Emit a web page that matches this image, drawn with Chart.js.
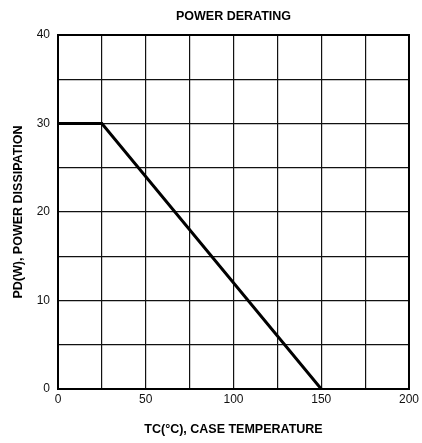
<!DOCTYPE html>
<html>
<head>
<meta charset="utf-8">
<script src="https://cdn.jsdelivr.net/npm/chart.js@4/dist/chart.umd.min.js"></script>
<style>
  html, body { margin: 0; padding: 0; background: #fff; }
  #wrap { width: 422px; height: 443px; }
</style>
</head>
<body>
<div id="wrap"><canvas id="chart" width="422" height="443"></canvas></div>
<script>
// case temperature (°C) and allowed power dissipation (W)
var caseTemp = [0, 25, 150];
var powerDiss = [30, 30, 0];
var xTicks = [0, 50, 100, 150, 200];
var yTicks = [0, 10, 20, 30, 40];

var points = caseTemp.map(function (t, i) { return { x: t, y: powerDiss[i] }; });

var font = "'Liberation Sans', Arial, sans-serif";
Chart.defaults.font.family = font;
Chart.defaults.color = '#111';

var ctx = document.getElementById('chart');
var chartGraph = new Chart(ctx, {
    type: 'line',
    data: {
        datasets: [{
            label: 'Power derating',
            data: points,
            borderColor: '#000',
            borderWidth: 3,
            pointRadius: 0,
            tension: 0,
            fill: false
        }]
    },
    options: {
        responsive: false,
        animation: false,
        layout: { padding: { left: 0, right: 11, top: 0, bottom: 0 } },
        plugins: {
            legend: { display: false },
            tooltip: { enabled: false },
            title: {
                display: true,
                fullSize: false,
                text: 'POWER DERATING',
                color: '#000',
                font: { size: 12.5, weight: 'bold' },
                padding: { top: 9, bottom: 11 }
            }
        },
        scales: {
            x: {
                type: 'linear',
                min: 0,
                max: 200,
                ticks: {
                    stepSize: 25,
                    padding: 3,
                    maxRotation: 0,
                    font: { size: 12 },
                    callback: function (v) { return xTicks.indexOf(v) >= 0 ? String(v) : ''; }
                },
                grid: { color: '#111', lineWidth: 1.2, drawTicks: false },
                border: { color: '#000', width: 2 },
                title: {
                    display: true,
                    text: 'TC(°C), CASE TEMPERATURE',
                    color: '#000',
                    font: { size: 12.5, weight: 'bold' },
                    padding: { top: 0, bottom: 6 }
                },
                afterFit: function (s) { s.height = 54; }
            },
            y: {
                type: 'linear',
                min: 0,
                max: 40,
                ticks: {
                    stepSize: 5,
                    padding: 8,
                    font: { size: 12 },
                    callback: function (v) { return yTicks.indexOf(v) >= 0 ? String(v) : ''; }
                },
                grid: { color: '#111', lineWidth: 1.2, drawTicks: false },
                border: { color: '#000', width: 2 },
                title: {
                    display: true,
                    text: 'PD(W), POWER DISSIPATION',
                    color: '#000',
                    font: { size: 12.5, weight: 'bold' },
                    padding: { top: 11, bottom: 0 }
                },
                afterFit: function (s) { s.width = 58; }
            }
        }
    },
    plugins: [{
        id: 'frame',
        afterDraw: function (c) {
            var a = c.chartArea, g = c.ctx;
            g.save();
            g.strokeStyle = '#000';
            g.lineWidth = 2;
            g.strokeRect(a.left, a.top, a.right - a.left, a.bottom - a.top);
            g.restore();
        }
    }]
});
</script>
</body>
</html>
